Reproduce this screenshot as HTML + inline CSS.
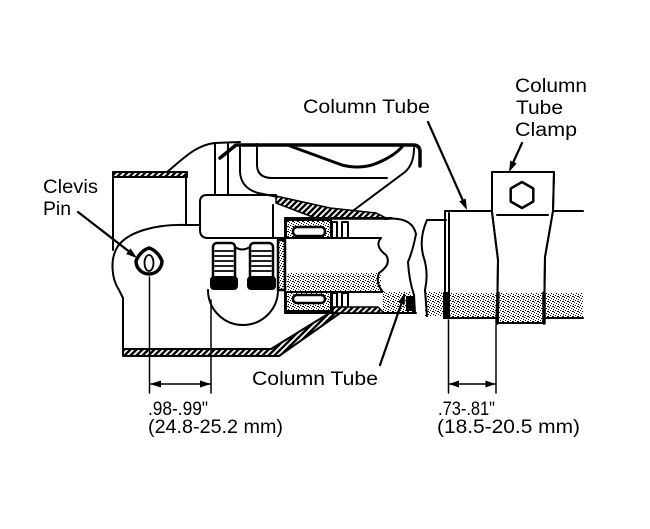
<!DOCTYPE html>
<html><head><meta charset="utf-8"><style>
html,body{margin:0;padding:0;background:#fff;}
svg{display:block;}
text{font-family:"Liberation Sans",Arial,sans-serif;font-size:19px;fill:#000;}
</style></head><body>
<svg width="650" height="529" viewBox="0 0 650 529" xmlns="http://www.w3.org/2000/svg">
<defs>
<pattern id="h" width="6" height="6" patternUnits="userSpaceOnUse">
<rect width="6" height="6" fill="#fff"/>
<path d="M-1,7 L7,-1 M-4,4 L4,-4 M2,10 L10,2" stroke="#000" stroke-width="2.4"/>
</pattern>
<pattern id="s" width="5" height="5" patternUnits="userSpaceOnUse">
<rect width="5" height="5" fill="#fff"/>
<rect x="0" y="0" width="1" height="1" fill="#000"/>
<rect x="2" y="1" width="1" height="1" fill="#000"/>
<rect x="3" y="1" width="1" height="1" fill="#000"/>
<rect x="4" y="2" width="1" height="1" fill="#000"/>
<rect x="1" y="3" width="1" height="1" fill="#000"/>
<rect x="3" y="4" width="1" height="1" fill="#000"/>
</pattern>
</defs>

<g fill="none" stroke="#000" stroke-width="2" stroke-linecap="round" stroke-linejoin="round">
<!-- housing top hatched band -->
<rect x="113" y="172" width="74" height="5" fill="url(#h)"/>
<!-- left outline -->
<path d="M113,172 L113,250"/>
<path d="M186,177 L186,225 L200,225"/>
<path d="M186,225 C155,224 128,232 118,246 C110,258 111,278 119,290 L123,298 L123,353"/>
<!-- bottom hatched band with diagonal -->
<path d="M123,349 L271,349 L336,309 L343,311 L279,356 L123,356 Z" fill="url(#h)"/>
<!-- outer housing top -->
<path d="M167,172 C184,158 196,145 215,143 L240,142"/>
<path d="M220,158 L236,145 L413,145 Q420,145 420,152 L420,166" stroke-width="3.5"/>
<path d="M215,144 L215,195 M228,144 L228,195"/>
<path d="M240,147 L240,172 Q241,188 258,193 L278,197"/>
<path d="M257,144 L257,166 Q258,178 272,178 L387,178"/>
<path d="M290,146 L342,165 Q357,169 372,165 Q392,158 402,147" stroke-width="3"/>
<path d="M414,148 Q414,164 405,172 L350,213"/>
<!-- clevis block -->
<path d="M276,195 L207,195 Q200,195 200,202 L200,230 Q200,238 208,238 L285,238"/>
<path d="M273,205 L273,238"/>
<path d="M276,196 L330,208 L376,213 L388,219 L318,219 L276,203 Z" fill="url(#h)" stroke-width="1.5"/>
<!-- bearing housing -->
<path d="M285,218 L392,218"/>
<path d="M285,218 L285,313 L416,313"/>
<rect x="286" y="220" width="45" height="18" fill="url(#s)"/>
<rect x="293" y="227" width="32" height="9" rx="4" fill="#fff" stroke-width="2.5"/>
<rect x="332" y="222" width="5" height="16" fill="#fff"/>
<rect x="342" y="222" width="6" height="16" fill="#fff"/>
<rect x="286" y="292" width="45" height="19" fill="url(#s)"/>
<rect x="293" y="295" width="32" height="8" rx="4" fill="#fff" stroke-width="2.5"/>
<rect x="332" y="293" width="5" height="17" fill="#fff"/>
<rect x="342" y="293" width="6" height="17" fill="#fff"/>
<path d="M333,307 L378,307 L384,313 L333,313 Z" fill="url(#h)" stroke-width="1.5"/>
<!-- shaft -->
<rect x="287" y="273" width="94" height="18" fill="url(#s)" stroke="none"/>
<path d="M285,238 L381,238 M285,292 L383,292"/>
<path d="M381,238 Q374,246 386,255 Q392,264 379,273 Q375,283 383,292"/>
<!-- outer tube break (left part) -->
<path d="M383,292 L410,292 L415,312 L383,312 Z" fill="url(#s)" stroke="none"/>
<path d="M385,219 Q412,216 416,234 Q413,250 408,262 Q409,280 414,295 L415,313"/>
<rect x="406" y="296" width="8" height="15" fill="#000" stroke="none"/>
<!-- retainer -->
<rect x="278" y="240" width="7" height="50" fill="url(#s)" stroke-width="2.5"/>
<!-- universal joint cylinders -->
<path d="M208,290 A35,35 0 0 0 278,290"/>
<rect x="213" y="243" width="22" height="45" rx="4" fill="#fff" stroke-width="2.5"/>
<rect x="250" y="243" width="23" height="45" rx="4" fill="#fff" stroke-width="2.5"/>
<path d="M215,251 H233 M215,256 H233 M215,261 H233 M215,266 H233 M215,271 H233" stroke-width="1.8"/>
<path d="M252,251 H271 M252,256 H271 M252,261 H271 M252,266 H271 M252,271 H271" stroke-width="1.8"/>
<rect x="211" y="277" width="26" height="12" rx="3" fill="#000"/>
<rect x="248" y="277" width="27" height="12" rx="3" fill="#000"/>
<path d="M235,247 Q242,252 250,247"/>
<!-- column tube piece between breaks -->
<rect x="425" y="292" width="21" height="24" fill="url(#s)" stroke="none"/>
<path d="M427,220 L446,220"/>
<path d="M427,220 Q419,238 423,255 Q429,272 425,290 L427,316"/>
<!-- sleeve -->
<rect x="450" y="293" width="133" height="24" fill="url(#s)" stroke="none"/>
<path d="M445,211 L492,211 M445,211 L445,318 L498,318 M449,213 L449,318"/>
<rect x="443" y="292" width="7" height="27" fill="#000" stroke="none"/>
<!-- right column -->
<path d="M554,211 L583,211 M544,318 L583,318"/>
<!-- clamp -->
<path d="M492,172 L554,172 L553,211 L545,257 L544,323 L497,323 L498,260 L492,212 Z" fill="#fff"/>
<path d="M498,293 L544,293 L544,322 L497,322 Z" fill="url(#s)" stroke="none"/>
<path d="M492,172 L554,172 L553,211 L545,257 L544,323 L497,323 L498,260 L492,212 Z"/>
<path d="M498,293 L497,323 M544,293 L544,323" stroke-width="3.5"/>
<path d="M497,215 L548,215"/>
<polygon points="522,182 533.3,188.5 533.3,201.5 522,208 510.7,201.5 510.7,188.5" stroke-width="2.5"/>
<!-- clevis pin -->
<path d="M149,248 Q158,251 162,261 A13,13 0 1 1 136,261 Q140,251 149,248 Z" stroke-width="3.5"/>
<ellipse cx="149" cy="263" rx="4.5" ry="8" stroke-width="1.8"/>
<!-- dimension lines -->
<path d="M149.5,277 L149.5,393 M211,300 L211,393 M149.5,384 L211,384" stroke-width="1.5"/>
<path d="M448.5,320 L448.5,393 M496,325 L496,393 M448.5,384 L496,384" stroke-width="1.5"/>
<!-- leaders -->
<path d="M78,212 L131,253 M428,122 L464,203 M522,143 L512,165 M380,365 L403,299" stroke-width="2.2"/>
</g>
<g fill="#000">
<polygon points="150,384 161,380.5 161,387.5"/>
<polygon points="211,384 200,380.5 200,387.5"/>
<polygon points="449,384 459,380.5 459,387.5"/>
<polygon points="495.5,384 485.5,380.5 485.5,387.5"/>
<polygon points="137,258 126.1,254 130.5,248.4"/>
<polygon points="467,210 459.35,201.37 465.75,198.53"/>
<polygon points="509,172 510.31,160.54 516.69,163.4"/>
<polygon points="405,293 404.7,304.55 398.08,302.25"/>
</g>

<text x="43" y="193" textLength="55" lengthAdjust="spacingAndGlyphs">Clevis</text>
<text x="43" y="215" textLength="28" lengthAdjust="spacingAndGlyphs">Pin</text>
<text x="303" y="113" textLength="127" lengthAdjust="spacingAndGlyphs">Column Tube</text>
<text x="515" y="92" textLength="72" lengthAdjust="spacingAndGlyphs">Column</text>
<text x="516" y="114" textLength="47" lengthAdjust="spacingAndGlyphs">Tube</text>
<text x="515" y="136" textLength="62" lengthAdjust="spacingAndGlyphs">Clamp</text>
<text x="252" y="385" textLength="126" lengthAdjust="spacingAndGlyphs">Column Tube</text>
<text x="148" y="415" textLength="60" lengthAdjust="spacingAndGlyphs">.98-.99"</text>
<text x="148" y="433" textLength="135" lengthAdjust="spacingAndGlyphs">(24.8-25.2 mm)</text>
<text x="438" y="415" textLength="57" lengthAdjust="spacingAndGlyphs">.73-.81"</text>
<text x="437" y="433" textLength="143" lengthAdjust="spacingAndGlyphs">(18.5-20.5 mm)</text>
</svg>
</body></html>
